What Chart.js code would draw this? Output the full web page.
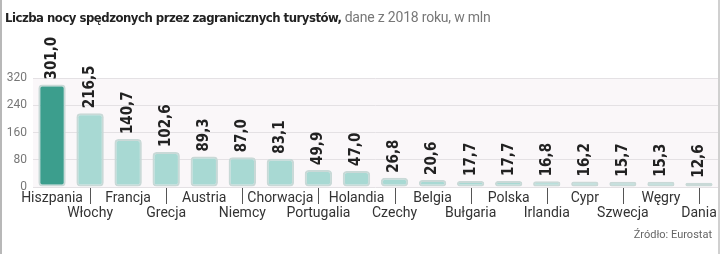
<!DOCTYPE html>
<html>
<head>
<meta charset="utf-8">
<script src="https://cdn.jsdelivr.net/npm/chart.js@4"></script>
<style>
  body { margin: 0; background: #fff; }
  #wrap { position: relative; width: 720px; height: 254px; overflow: hidden;
          border-left: 2px solid #b8b8b8; border-right: 2px solid #d0d0d0; box-sizing: border-box; }
  #chart { position: absolute; left: -2px; top: 0; }
  #title { position: absolute; left: 3px; top: 9px; font-family: "DejaVu Sans Condensed", "DejaVu Sans";
           font-size: 13px; color: #222; white-space: nowrap; letter-spacing: -0.5px; }
  #title b { font-weight: bold; }
  #title span { color: #777; font-family: Roboto; font-size: 14px; letter-spacing: -0.2px; }
  #source { position: absolute; right: 6px; top: 228px; font-family: "Roboto", sans-serif;
            font-size: 11px; color: #666; }
</style>
</head>
<body>
<div id="wrap">
  <canvas id="chart" width="720" height="254"></canvas>
  <div id="title"><b>Liczba nocy spędzonych przez zagranicznych turystów,</b> <span>dane z 2018 roku, w mln</span></div>
  <div id="source">Źródło: Eurostat</div>
</div>
<script>
var countries = ["Hiszpania", "Włochy", "Francja", "Grecja", "Austria", "Niemcy", "Chorwacja", "Portugalia",
  "Holandia", "Czechy", "Belgia", "Bułgaria", "Polska", "Irlandia", "Cypr", "Szwecja", "Węgry", "Dania"];
var nights = [301.0, 216.5, 140.7, 102.6, 89.3, 87.0, 83.1, 49.9, 47.0, 26.8, 20.6, 17.7, 17.7, 16.8, 16.2, 15.7, 15.3, 12.6];
var yTicks = [0, 80, 160, 240, 320];

// tło obszaru wykresu
var plotBg = {
  id: "plotBg",
  beforeDraw: function (chart) {
    var a = chart.chartArea, ctx = chart.ctx;
    ctx.save();
    ctx.fillStyle = "#faf7f9";
    ctx.fillRect(a.left, a.top, a.right - a.left, a.bottom - a.top);
    ctx.restore();
  }
};

// wartości nad słupkami + podpisy krajów
var labels = {
  id: "labels",
  afterDatasetsDraw: function (chart) {
    var ctx = chart.ctx;
    var meta = chart.getDatasetMeta(0);
    ctx.save();
    ctx.fillStyle = "#222";
    ctx.font = "bold 15px 'DejaVu Sans Condensed', 'DejaVu Sans'";
    ctx.textAlign = "left";
    ctx.textBaseline = "middle";
    meta.data.forEach(function (bar, i) {
      ctx.save();
      ctx.translate(bar.x, bar.y - 5);
      ctx.rotate(-Math.PI / 2);
      ctx.fillText(nights[i].toFixed(1).replace(".", ","), 0, 0);
      ctx.restore();
    });
    ctx.restore();
  },
  afterDraw: function (chart) {
    var ctx = chart.ctx;
    var xs = chart.scales.x;
    ctx.save();
    ctx.font = "14px Roboto";
    ctx.fillStyle = "#333";
    ctx.textAlign = "center";
    ctx.textBaseline = "middle";
    ctx.strokeStyle = "#555";
    ctx.lineWidth = 1;
    countries.forEach(function (c, i) {
      var x = xs.getPixelForValue(i);
      if (i % 2 == 1) {
        ctx.beginPath();
        ctx.moveTo(Math.round(x) + 0.5, 188);
        ctx.lineTo(Math.round(x) + 0.5, 204);
        ctx.stroke();
        ctx.fillText(c, x, 213);
      } else {
        ctx.fillText(c, x, 198);
      }
    });
    ctx.restore();
  }
};

var ctx = document.getElementById("chart").getContext("2d");
var chart = new Chart(ctx, {
  type: "bar",
  data: {
    labels: countries,
    datasets: [{
      data: nights,
      backgroundColor: nights.map(function (v, i) { return i == 0 ? "#3c9e8d" : "#a8d9d3"; }),
      borderColor: "#c9d9d7",
      borderWidth: 2,
      borderRadius: 4,
      borderSkipped: false,
      barPercentage: 0.72,
      categoryPercentage: 1
    }]
  },
  options: {
    responsive: false,
    animation: false,
    layout: { padding: { top: 78, bottom: 67, left: 2, right: 2 } },
    plugins: { legend: { display: false }, tooltip: { enabled: false } },
    scales: {
      x: {
        ticks: { display: false },
        grid: { display: false },
        border: { display: false },
        afterFit: function (s) { s.height = 0; }
      },
      y: {
        min: 0,
        max: 320,
        afterBuildTicks: function (s) { s.ticks = yTicks.map(function (v) { return { value: v }; }); },
        ticks: { color: "#777", font: { family: "Roboto", size: 12 }, padding: 6 },
        grid: { color: "#e4e1e4", drawTicks: false },
        border: { display: false },
        afterFit: function (s) { s.width = 31; }
      }
    }
  },
  plugins: [plotBg, labels]
});
</script>
</body>
</html>
